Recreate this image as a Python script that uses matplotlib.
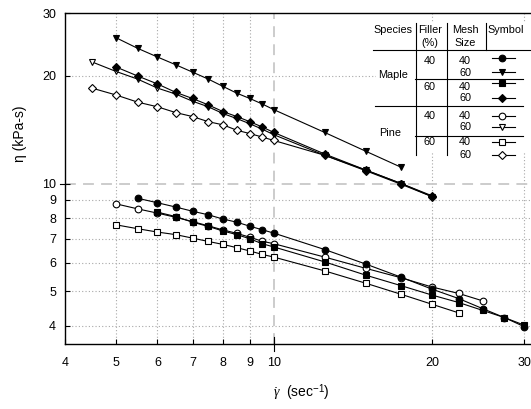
import matplotlib
matplotlib.use('Agg')
import matplotlib.pyplot as plt
from matplotlib.lines import Line2D
from matplotlib.patches import Rectangle
from matplotlib.ticker import FixedLocator, NullLocator, FixedFormatter

plt.rcParams['font.family'] = ['Liberation Sans', 'DejaVu Sans']
plt.rcParams['mathtext.fontset'] = 'custom'
plt.rcParams['mathtext.rm'] = 'Liberation Sans'
plt.rcParams['mathtext.it'] = 'Liberation Serif:italic'

# ---------------- data ----------------
x_ticks = [4, 5, 6, 7, 8, 9, 10, 20, 30]
x_tick_labels = ['4', '5', '6', '7', '8', '9', '10', '20', '30']
y_ticks = [4, 5, 6, 7, 8, 9, 10, 20, 30]
y_tick_labels = ['4', '5', '6', '7', '8', '9', '10', '20', '30']

# Maple 40% / mesh 40 (filled circle)
maple_40_40_x = [5.5, 6, 6.5, 7, 7.5, 8, 8.5, 9, 9.5, 10, 12.5, 15, 17.5, 20, 22.5, 25, 27.5, 30]
maple_40_40_y = [9.1, 8.84, 8.6, 8.37, 8.18, 7.96, 7.8, 7.6, 7.43, 7.27, 6.54, 5.95, 5.47, 5.07, 4.77, 4.47, 4.22, 3.98]
# Maple 40% / mesh 60 (filled down triangle)
maple_40_60_x = [5, 5.5, 6, 6.5, 7, 7.5, 8, 8.5, 9, 9.5, 10, 12.5, 15, 17.5]
maple_40_60_y = [25.6, 23.9, 22.6, 21.5, 20.5, 19.6, 18.7, 17.9, 17.3, 16.7, 16.1, 13.9, 12.3, 11.1]
# Maple 60% / mesh 40 (filled square)
maple_60_40_x = [6, 6.5, 7, 7.5, 8, 8.5, 9, 9.5, 10, 12.5, 15, 17.5, 20, 22.5, 25, 27.5, 30]
maple_60_40_y = [8.32, 8.09, 7.80, 7.59, 7.37, 7.2, 7.01, 6.79, 6.65, 6.04, 5.54, 5.18, 4.88, 4.65, 4.42, 4.22, 4.02]
# Maple 60% / mesh 60 (filled diamond)
maple_60_60_x = [5, 5.5, 6, 6.5, 7, 7.5, 8, 8.5, 9, 9.5, 10, 12.5, 15, 17.5, 20]
maple_60_60_y = [21.2, 20.0, 19.0, 18.0, 17.3, 16.6, 15.9, 15.4, 14.9, 14.4, 13.9, 12.1, 10.9, 10.0, 9.25]
# Pine 40% / mesh 40 (open circle)
pine_40_40_x = [5, 5.5, 6, 6.5, 7, 7.5, 8, 8.5, 9, 9.5, 10, 12.5, 15, 17.5, 20, 22.5, 25]
pine_40_40_y = [8.78, 8.50, 8.27, 8.05, 7.83, 7.62, 7.42, 7.26, 7.08, 6.9, 6.79, 6.23, 5.79, 5.45, 5.14, 4.93, 4.70]
# Pine 40% / mesh 60 (open down triangle)
pine_40_60_x = [4.5, 5, 5.5, 6, 6.5, 7, 7.5, 8, 8.5, 9, 9.5, 10, 12.5, 15, 17.5, 20]
pine_40_60_y = [21.9, 20.6, 19.6, 18.5, 17.8, 17.0, 16.4, 15.7, 15.2, 14.7, 14.2, 13.7, 12.0, 10.9, 10.0, 9.2]
# Pine 60% / mesh 40 (open square)
pine_60_40_x = [5, 5.5, 6, 6.5, 7, 7.5, 8, 8.5, 9, 9.5, 10, 12.5, 15, 17.5, 20, 22.5]
pine_60_40_y = [7.67, 7.48, 7.32, 7.20, 7.04, 6.89, 6.76, 6.62, 6.48, 6.34, 6.23, 5.70, 5.26, 4.90, 4.60, 4.35]
# Pine 60% / mesh 60 (open diamond)
pine_60_60_x = [4.5, 5, 5.5, 6, 6.5, 7, 7.5, 8, 8.5, 9, 9.5, 10, 12.5, 15, 17.5, 20]
pine_60_60_y = [18.5, 17.7, 16.9, 16.4, 15.8, 15.4, 14.9, 14.6, 14.1, 13.8, 13.5, 13.2, 12.0, 10.85, 9.95, 9.2]

species = ['Maple', 'Pine']
fillers = ['40', '60', '40', '60']
meshes = ['40', '60', '40', '60', '40', '60', '40', '60']

# ---------------- styling ----------------
series = [
    (pine_40_40_x, pine_40_40_y, dict(marker='o', mfc='white')),
    (pine_40_60_x, pine_40_60_y, dict(marker='v', mfc='white')),
    (pine_60_40_x, pine_60_40_y, dict(marker='s', mfc='white')),
    (pine_60_60_x, pine_60_60_y, dict(marker='D', mfc='white', ms=4.3)),
    (maple_40_40_x, maple_40_40_y, dict(marker='o', mfc='black')),
    (maple_40_60_x, maple_40_60_y, dict(marker='v', mfc='black')),
    (maple_60_40_x, maple_60_40_y, dict(marker='s', mfc='black')),
    (maple_60_60_x, maple_60_60_y, dict(marker='D', mfc='black', ms=4.3)),
]
legend_styles = [s[2] for s in series[4:]] + [s[2] for s in series[:4]]

W, H = 531, 409
fig = plt.figure(figsize=(W / 100, H / 100), dpi=100)
L, R, T, B = 65, 531, 13, 344
ax = fig.add_axes([L / W, 1 - B / H, (R - L) / W, (B - T) / H])
ax.set_xscale('log')
ax.set_yscale('log')
ax.set_xlim(4, 30.9)
ax.set_ylim(3.56, 30)

# grid
for v in x_ticks[1:]:
    if v == 10:
        ax.axvline(v, color='#c8c8c8', lw=1.3, ls=(0, (6, 4)), zorder=0.5)
    else:
        ax.axvline(v, color='#a8a8a8', lw=0.8, ls=(0, (1, 2)), zorder=0.5)
for v in y_ticks[:-1]:
    if v == 10:
        ax.axhline(v, color='#c8c8c8', lw=1.3, ls=(0, (6, 4)), zorder=0.5)
    else:
        ax.axhline(v, color='#a8a8a8', lw=0.8, ls=(0, (1, 2)), zorder=0.5)

# data
for i, (xs, ys, st) in enumerate(series):
    kw = dict(color='black', lw=0.8, mec='black', mew=0.8, ms=4.8)
    kw.update(st)
    ax.plot(xs, ys, zorder=3 if i < 4 else 4, clip_on=False, **kw)

# ticks
ax.xaxis.set_major_locator(FixedLocator(x_ticks))
ax.xaxis.set_major_formatter(FixedFormatter(x_tick_labels))
ax.xaxis.set_minor_locator(NullLocator())
ax.yaxis.set_major_locator(FixedLocator(y_ticks))
ax.yaxis.set_major_formatter(FixedFormatter(y_tick_labels))
ax.yaxis.set_minor_locator(NullLocator())
ax.tick_params(axis='x', direction='in', length=3.5, width=0.8, pad=9, labelsize=9, top=False)
ax.tick_params(axis='y', direction='in', length=3.5, width=0.8, pad=6.5, labelsize=9, right=False)
ax.add_line(Line2D([10, 10], [-0.02, 0.02], transform=ax.get_xaxis_transform(),
                   color='black', lw=0.8, clip_on=False, zorder=5))
ax.add_line(Line2D([-0.011, 0.0], [10, 10], transform=ax.get_yaxis_transform(),
                   color='black', lw=0.8, clip_on=False, zorder=5))

for s in ['left', 'bottom', 'top']:
    ax.spines[s].set_linewidth(1.0)
ax.spines['right'].set_visible(False)

# axis labels
fig.text(20 / W, 1 - 134 / H, 'η (kPa-s)', rotation=90, ha='center', va='center', fontsize=10)
fig.text(301 / W, 1 - 393 / H, r'$\dot{\gamma}$  (sec$^{-1}$)', ha='center', va='center', fontsize=10)

# ---------------- table legend ----------------
def fx(px):
    return px / W

def fy(py):
    return 1 - py / H

ax.add_patch(Rectangle((fx(376), fy(153)), fx(531) - fx(376), fy(23) - fy(153),
                       transform=fig.transFigure, facecolor='white', edgecolor='none',
                       zorder=2, clip_on=False))

def ftext(px, py, s):
    ax.text(fx(px), fy(py), s, transform=fig.transFigure, ha='center', va='center',
            fontsize=7.8, zorder=6, clip_on=False)

def fline(x0, y0, x1, y1):
    ax.add_line(Line2D([fx(x0), fx(x1)], [fy(y0), fy(y1)], transform=fig.transFigure,
                       color='black', lw=0.8, clip_on=False, zorder=6))

ftext(393, 30, 'Species')
ftext(430, 30, 'Filler')
ftext(430, 43.5, '(%)')
ftext(465, 30, 'Mesh')
ftext(465, 43.5, 'Size')
ftext(506, 30, 'Symbol')

fline(416, 23, 416, 155)
fline(446.7, 23, 446.7, 155)
fline(485.7, 23, 485.7, 50)
fline(373, 50, 531, 50)
fline(415, 79, 523, 79)
fline(375, 105.7, 523, 105.7)
fline(415, 135.7, 523, 135.7)

ftext(393, 74.5, species[0])
ftext(390, 133.5, species[1])
for f, py in zip(fillers, [60.7, 86.7, 116, 141.7]):
    ftext(430, py, f)
row_y = [60.7, 73.3, 87.3, 98.3, 116, 127.3, 141.7, 154.5]
for m, py in zip(meshes, row_y):
    ftext(465, py, m)
sym_y = [57.7, 71.7, 83.3, 98.3, 116, 127.3, 141.7, 155]
for st, py in zip(legend_styles, sym_y):
    kw = dict(color='black', lw=0.8, mec='black', mew=0.8, ms=4.8)
    kw.update(st)
    ax.add_line(Line2D([fx(491.7), fx(501.7), fx(515)], [fy(py)] * 3, transform=fig.transFigure,
                       markevery=[1], clip_on=False, zorder=7, **kw))

fig.savefig('out.png', dpi=100)
